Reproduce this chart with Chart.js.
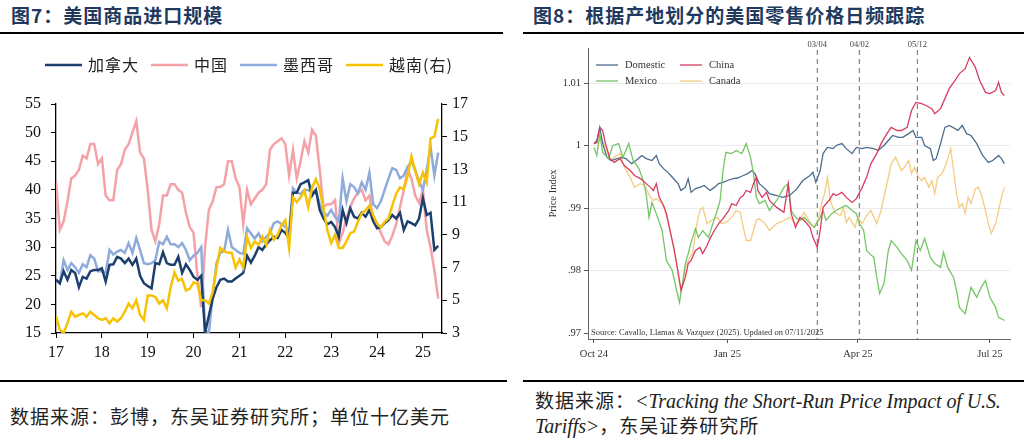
<!DOCTYPE html>
<html>
<head>
<meta charset="utf-8">
<script src="https://cdn.jsdelivr.net/npm/chart.js@4.4.1/dist/chart.umd.min.js"></script>
<style>
  body { margin: 0; width: 1024px; height: 441px; background: #fff; overflow: hidden; position: relative; font-family: "Noto Sans CJK SC", sans-serif; }
  .title { position: absolute; top: 3px; font-size: 19px; line-height: 24px; font-weight: bold; color: #22395e; letter-spacing: 1px; white-space: nowrap; }
  .rule { position: absolute; height: 2px; background: #000; }
  .box { position: absolute; }
  .foot { position: absolute; font-size: 19px; line-height: 25px; color: #222; white-space: nowrap; letter-spacing: 1px; }
  .foot i { font-family: "Liberation Serif", serif; font-size: 20px; letter-spacing: -0.1px; }
</style>
</head>
<body>
<div class="title" style="left:11px">图7：美国商品进口规模</div>
<div class="title" style="left:533px">图8：根据产地划分的美国零售价格日频跟踪</div>
<div class="rule" style="left:0;top:32px;width:503px"></div>
<div class="rule" style="left:523px;top:32px;width:501px"></div>

<div class="box" style="left:0;top:35px;width:512px;height:345px"><canvas id="imports"></canvas></div>
<div class="box" style="left:523px;top:35px;width:501px;height:345px"><canvas id="prices"></canvas></div>

<div class="rule" style="left:0;top:380px;width:507px"></div>
<div class="rule" style="left:523px;top:380px;width:501px"></div>
<div class="foot" style="left:10px;top:403px">数据来源：彭博，东吴证券研究所；单位十亿美元</div>
<div class="foot" style="left:535px;top:387px">数据来源：<i>&lt;Tracking the Short-Run Price Impact of U.S.</i></div>
<div class="foot" style="left:535px;top:412px"><i>Tariffs&gt;</i>，东吴证券研究所</div>

<script>
// ---- 图7: monthly imports, Jan 2017 - May 2025 (bn USD) ----
const yearLabels = ['17', '18', '19', '20', '21', '22', '23', '24', '25'];
const leftTicks = [15, 20, 25, 30, 35, 40, 45, 50, 55];
const rightTicks = [3, 5, 7, 9, 11, 13, 15, 17];

const canada = [
    24.3, 23.7, 25.8, 24.3, 26, 25.5, 23, 24.8, 24.5, 25.8, 26, 26,
    26.3, 24, 26.9, 27, 28.3, 28, 27.2, 28, 26.9, 28, 25, 23.7,
    23.2, 22.8, 27.2, 27, 29.1, 27.2, 26.9, 26.9, 28.3, 25.5, 27, 26,
    24.8, 24.3, 25, 15, 18, 21, 23, 24.3, 24.5, 24, 24, 24.5,
    25, 25.5, 28.5, 27.3, 28.5, 30, 29.5, 30.5, 31.2, 31.8, 31.6, 33,
    32.5, 31.5, 39.5, 39.5, 41, 41.3, 41.7, 39, 40, 36.5, 35, 34,
    34.4, 33.5, 31.8, 36.5, 34.2, 36.8, 35.3, 35, 36, 35.3, 36.5, 34.5,
    33.3, 33.5, 34.2, 34.7, 35.6, 35, 36, 33, 34.5, 34.2, 33.8, 35,
    38.6, 35.6, 36, 29.5, 30.2
];
const china = [
    41.5, 33, 34.5, 38, 42, 42.5, 43.5, 46, 45.5, 48, 48, 44.5,
    45.5, 39, 38.2, 38.2, 43.5, 44.5, 47, 48, 50, 52, 46.5, 45.5,
    40, 33, 31, 34, 39, 39, 41, 41, 40, 39.5, 36, 33.5,
    32.5, 25, 19.5, 30, 36.5, 38, 40.5, 40.5, 41, 45, 45, 42,
    40.5, 34, 40, 37.5, 38.5, 39.5, 40, 41, 47, 48, 48.5, 49,
    48, 42.5, 47, 42, 45, 48.5, 46.5, 50.5, 49.5, 43.5, 37, 37.5,
    37.5, 38.2, 30.7, 32.5, 35, 37, 38.5, 39.5, 40, 38.2, 39, 34.7,
    34, 32.5, 31, 30.5, 32, 34, 37, 40, 43.5, 42, 39, 37.7,
    40, 33, 30, 26, 21
];
const mexico = [
    24.3, 23.7, 27.7, 26, 27.2, 26.5, 25.5, 27, 26.5, 28.6, 28, 25.8,
    25.8, 25.5, 29.5, 28.7, 29.2, 29.5, 29, 30.7, 29, 31.6, 29.5, 27.2,
    27, 27.2, 27.7, 30.9, 30.5, 31.8, 30.5, 30.5, 30, 30.7, 29.5, 27.7,
    28.5, 29, 30, 15.5, 15, 21.5, 27.2, 29, 29.3, 33, 30, 29.5,
    29, 28.8, 33.3, 32.4, 31.5, 32.4, 31, 31.8, 32.5, 34.2, 34.5, 34,
    33.5, 32.8, 40.3, 39.5, 39.3, 40, 40, 39.5, 40, 37.5, 36, 35.5,
    36.5, 35.3, 34.5, 42, 38, 41, 40.5, 39.4, 41.3, 40, 43, 37.5,
    36.8, 38, 40, 42, 43.8, 43.5, 42, 42.5, 44, 45, 43.5, 41.5,
    40, 43.5, 47.5, 42.5, 46.5
];
// right axis
const vietnam = [
    4.0, 3.2, 3.0, 3.6, 4.3, 4.0, 4.1, 4.2, 4.0, 4.3, 4.1, 3.9,
    3.8, 3.9, 3.6, 3.9, 3.7, 3.9, 4.3, 4.8, 4.5, 5.0, 4.1, 3.8,
    5.3, 5.3, 5.2, 4.8, 5.0, 4.5, 5.8, 6.7, 6.2, 6.3, 5.6, 5.7,
    6.1, 6.0, 5.0, 5.0, 4.8, 5.5, 7.0, 8.2, 8.0, 7.9, 7.9, 7.0,
    7.5, 7.0, 8.85, 8.2, 8.6, 8.4, 8.9, 8.4, 9.3, 8.7, 9.0, 9.6,
    9.9, 8.2, 11.3, 11.0, 11.3, 11.7, 10.7, 11.9, 12.4, 11.8, 10.6, 9.3,
    8.5, 9.0, 8.2, 8.2, 8.6, 9.1, 9.2, 9.8, 10.3, 10.5, 10.8, 10.2,
    9.7, 9.45, 9.8, 10.0, 10.8, 11.5, 11.9, 11.8, 12.6, 13.8, 12.9, 12.1,
    12.8, 12.2, 14.9, 15.0, 16.1
];

// ---- 图8: daily price index, days counted from 2024-10-01 ----
const quarterDays = [0, 92, 182, 273];
const quarterLabels = ['Oct 24', 'Jan 25', 'Apr 25', 'Jul 25'];
const priceTicks = [0.97, 0.98, 0.99, 1, 1.01];
const eventDays = [154, 183, 223];
const eventLabels = ['03/04', '04/02', '05/12'];

const domDays = [0, 2, 4, 6, 9, 12, 16, 19, 22, 26,
    29, 33, 36, 40, 43, 45, 48, 51, 53, 56,
    58, 60, 63, 65, 67, 70, 73, 76, 80, 83,
    86, 89, 92, 96, 99, 103, 106, 109, 111, 114,
    118, 121, 126, 130, 135, 140, 144, 149, 151, 153,
    156, 158, 161, 165, 167, 171, 174, 178, 181, 185,
    188, 193, 196, 200, 203, 206, 210, 213, 217, 220,
    222, 226, 228, 232, 234, 236, 239, 242, 245, 249,
    251, 254, 257, 260, 264, 268, 272, 275, 279, 281,
    283];
const domestic = [1.0003, 1.0008, 1.0029, 1.0003, 0.9981, 0.9976, 0.9979, 0.9981, 0.9979, 0.9971,
    0.9976, 0.9984, 0.9979, 0.9976, 0.9984, 0.9971, 0.9963, 0.9957, 0.9952, 0.9944,
    0.9939, 0.9928, 0.9933, 0.9947, 0.9925, 0.9931, 0.9933, 0.9936, 0.9928, 0.9933,
    0.9939, 0.9941, 0.9944, 0.9947, 0.9948, 0.9952, 0.9955, 0.9960, 0.9955, 0.9939,
    0.9931, 0.9923, 0.9920, 0.9917, 0.9920, 0.9931, 0.9944, 0.9952, 0.9957, 0.9941,
    0.9960, 0.9987, 0.9997, 0.9995, 1.0000, 1.0003, 0.9995, 0.9987, 0.9997, 0.9995,
    0.9997, 0.9995, 0.9992, 1.0000, 1.0008, 1.0016, 1.0013, 1.0013, 1.0019, 1.0024,
    1.0013, 1.0013, 1.0000, 0.9995, 0.9976, 0.9979, 1.0003, 1.0029, 1.0032, 1.0027,
    1.0024, 1.0032, 1.0019, 1.0016, 1.0003, 0.9984, 0.9973, 0.9976, 0.9984, 0.9979,
    0.9971];

const chnDays = [0, 2, 4, 6, 8, 11, 14, 18, 21, 25,
    28, 32, 35, 39, 41, 43, 45, 48, 50, 52,
    55, 57, 59, 60, 63, 65, 67, 70, 73, 75,
    78, 80, 83, 86, 89, 93, 95, 98, 101, 103,
    105, 108, 110, 112, 113, 116, 119, 121, 126, 131,
    134, 136, 139, 142, 145, 149, 151, 154, 156, 158,
    162, 165, 167, 171, 174, 178, 181, 185, 188, 191,
    195, 198, 202, 205, 209, 212, 216, 219, 222, 226,
    229, 233, 235, 239, 242, 245, 249, 252, 256, 259,
    263, 266, 270, 273, 277, 279, 281, 283];
const china8 = [1.0003, 1.0005, 1.0029, 1.0024, 1.0003, 0.9979, 0.9973, 0.9979, 0.9968, 0.9960,
    0.9952, 0.9947, 0.9941, 0.9933, 0.9928, 0.9939, 0.9917, 0.9904, 0.9891, 0.9869,
    0.9837, 0.9811, 0.9784, 0.9768, 0.9789, 0.9811, 0.9816, 0.9832, 0.9837, 0.9827,
    0.9840, 0.9851, 0.9864, 0.9875, 0.9883, 0.9896, 0.9907, 0.9904, 0.9917, 0.9920,
    0.9928, 0.9925, 0.9939, 0.9949, 0.9928, 0.9917, 0.9925, 0.9912, 0.9901, 0.9893,
    0.9939, 0.9891, 0.9869, 0.9885, 0.9880, 0.9869, 0.9853, 0.9837, 0.9864, 0.9901,
    0.9912, 0.9923, 0.9920, 0.9925, 0.9917, 0.9909, 0.9915, 0.9933, 0.9949, 0.9971,
    0.9987, 1.0003, 1.0019, 1.0029, 1.0024, 1.0024, 1.0029, 1.0056, 1.0069, 1.0067,
    1.0064, 1.0059, 1.0051, 1.0059, 1.0075, 1.0091, 1.0104, 1.0115, 1.0123, 1.0141,
    1.0125, 1.0104, 1.0085, 1.0083, 1.0088, 1.0101, 1.0085, 1.0080];

const mexDays = [0, 2, 4, 6, 10, 13, 17, 20, 24, 27,
    31, 34, 36, 38, 40, 43, 47, 50, 54, 57,
    59, 61, 63, 65, 67, 70, 72, 75, 79, 82,
    85, 87, 89, 91, 95, 98, 102, 105, 108, 110,
    112, 114, 118, 121, 126, 131, 134, 136, 139, 142,
    145, 149, 152, 156, 158, 160, 164, 167, 171, 174,
    178, 181, 183, 186, 188, 190, 193, 195, 197, 200,
    203, 205, 209, 212, 216, 219, 222, 225, 228, 232,
    235, 239, 241, 244, 248, 250, 252, 256, 258, 260,
    264, 267, 270, 273, 277, 279, 283];
const mexico8 = [0.9997, 0.9984, 1.0019, 0.9989, 0.9979, 1.0000, 1.0003, 0.9981, 1.0003, 0.9976,
    0.9963, 0.9944, 0.9923, 0.9885, 0.9909, 0.9891, 0.9864, 0.9816, 0.9800, 0.9768,
    0.9749, 0.9779, 0.9811, 0.9827, 0.9845, 0.9867, 0.9853, 0.9864, 0.9853, 0.9875,
    0.9896, 0.9912, 0.9960, 0.9989, 0.9987, 0.9992, 0.9987, 1.0003, 0.9981, 0.9955,
    0.9917, 0.9907, 0.9912, 0.9896, 0.9912, 0.9933, 0.9939, 0.9896, 0.9885, 0.9880,
    0.9885, 0.9875, 0.9869, 0.9885, 0.9896, 0.9880, 0.9891, 0.9896, 0.9901, 0.9904,
    0.9896, 0.9891, 0.9875, 0.9864, 0.9832, 0.9827, 0.9821, 0.9789, 0.9763, 0.9779,
    0.9832, 0.9848, 0.9837, 0.9827, 0.9816, 0.9800, 0.9848, 0.9832, 0.9851, 0.9821,
    0.9811, 0.9805, 0.9829, 0.9805, 0.9789, 0.9768, 0.9741, 0.9731, 0.9752, 0.9773,
    0.9757, 0.9773, 0.9784, 0.9757, 0.9741, 0.9725, 0.9720];

const canDays = [0, 3, 5, 8, 11, 14, 18, 21, 25, 28,
    32, 35, 39, 41, 43, 47, 49, 52, 55, 57,
    59, 61, 63, 66, 68, 71, 73, 75, 78, 81,
    85, 88, 91, 95, 98, 101, 103, 105, 108, 110,
    112, 114, 118, 121, 126, 131, 135, 139, 142, 145,
    149, 152, 155, 157, 159, 161, 163, 166, 170, 172,
    174, 176, 180, 182, 185, 188, 191, 195, 198, 201,
    203, 205, 208, 210, 212, 214, 217, 219, 221, 224,
    226, 228, 231, 233, 235, 237, 240, 242, 244, 246,
    248, 250, 252, 254, 256, 258, 260, 263, 265, 267,
    270, 272, 274, 277, 279, 281, 283];
const canada8 = [1.0003, 1.0005, 1.0013, 0.9997, 0.9976, 0.9981, 0.9987, 0.9965, 0.9949, 0.9933,
    0.9939, 0.9936, 0.9917, 0.9912, 0.9915, 0.9907, 0.9896, 0.9869, 0.9837, 0.9811,
    0.9779, 0.9773, 0.9805, 0.9821, 0.9827, 0.9875, 0.9896, 0.9901, 0.9875, 0.9880,
    0.9885, 0.9875, 0.9877, 0.9885, 0.9896, 0.9893, 0.9869, 0.9848, 0.9848, 0.9864,
    0.9880, 0.9883, 0.9875, 0.9864, 0.9875, 0.9880, 0.9885, 0.9875, 0.9880, 0.9893,
    0.9877, 0.9869, 0.9885, 0.9907, 0.9923, 0.9949, 0.9912, 0.9893, 0.9888, 0.9901,
    0.9877, 0.9885, 0.9869, 0.9885, 0.9875, 0.9888, 0.9896, 0.9875, 0.9896, 0.9928,
    0.9949, 0.9971, 0.9981, 0.9971, 0.9960, 0.9965, 0.9976, 0.9955, 0.9965, 0.9949,
    0.9944, 0.9949, 0.9933, 0.9944, 0.9923, 0.9949, 0.9955, 0.9965, 0.9979, 0.9995,
    0.9960, 0.9923, 0.9901, 0.9907, 0.9891, 0.9917, 0.9907, 0.9931, 0.9933, 0.9923,
    0.9896, 0.9875, 0.9859, 0.9875, 0.9896, 0.9917, 0.9933];

const serif = 'Liberation Serif';

function monthly(vals) {
    return vals.map((v, i) => ({ x: i, y: v }));
}
function daily(days, vals) {
    return days.map((d, i) => ({ x: d, y: vals[i] }));
}
function fixTicks(list) {
    return scale => { scale.ticks = list.map(v => ({ value: v })); };
}

// legend row drawn above the plot, like the report's
const importLegend = {
    id: 'importLegend',
    afterDraw(chart) {
        const ctx = chart.ctx;
        let x = 45;
        const y = 30;
        ctx.save();
        ctx.font = '16px "Noto Sans CJK SC"';
        ctx.letterSpacing = '1px';
        ctx.textBaseline = 'middle';
        chart.data.datasets.forEach(ds => {
            ctx.strokeStyle = ds.borderColor;
            ctx.lineWidth = 2.5;
            ctx.beginPath();
            ctx.moveTo(x, y);
            ctx.lineTo(x + 37, y);
            ctx.stroke();
            ctx.fillStyle = '#222';
            ctx.fillText(ds.label, x + 43, y);
            x += 43 + ctx.measureText(ds.label).width + 12;
        });
        ctx.restore();
    }
};

new Chart(document.getElementById('imports'), {
    type: 'line',
    data: {
        datasets: [
            { label: '加拿大', data: monthly(canada), borderColor: '#1d3f6e', order: 1 },
            { label: '中国', data: monthly(china), borderColor: '#f4a2a8', order: 3 },
            { label: '墨西哥', data: monthly(mexico), borderColor: '#8eabdc', order: 2 },
            { label: '越南(右)', data: monthly(vietnam), borderColor: '#f7c204', yAxisID: 'y2', order: 0 }
        ]
    },
    options: {
        responsive: true,
        maintainAspectRatio: false,
        animation: false,
        layout: { padding: { top: 69, right: 36, bottom: 17, left: 0 } },
        elements: { point: { radius: 0 }, line: { borderWidth: 2.5, tension: 0 } },
        plugins: { legend: { display: false }, tooltip: { enabled: false } },
        scales: {
            x: {
                type: 'linear', min: 0, max: 101,
                afterBuildTicks: fixTicks([0, 12, 24, 36, 48, 60, 72, 84, 96]),
                afterFit: s => { s.height = 30; },
                grid: { drawOnChartArea: false, tickLength: 5, color: '#000' },
                border: { color: '#000', width: 1.3 },
                ticks: { font: { family: serif, size: 16 }, color: '#111', padding: 5, maxRotation: 0,
                    callback: v => yearLabels[Math.round(v / 12)] }
            },
            y: {
                position: 'left', min: 15, max: 55,
                afterBuildTicks: fixTicks(leftTicks),
                afterFit: s => { s.width = 56; },
                grid: { drawOnChartArea: false, tickLength: 5, color: '#000' },
                border: { color: '#000', width: 1.3 },
                ticks: { font: { family: serif, size: 16 }, color: '#111', padding: 10 }
            },
            y2: {
                position: 'right', min: 3, max: 17,
                afterBuildTicks: fixTicks(rightTicks),
                afterFit: s => { s.width = 34; },
                grid: { drawOnChartArea: false, tickLength: 5, color: '#000' },
                border: { color: '#000', width: 1.3 },
                ticks: { font: { family: serif, size: 16 }, color: '#111', padding: 5 }
            }
        }
    },
    plugins: [importLegend]
});

// dashed policy dates, source note and the boxed legend of the price chart
const priceExtras = {
    id: 'priceExtras',
    beforeDatasetsDraw(chart) {
        const { ctx, chartArea, scales } = chart;
        ctx.save();
        ctx.strokeStyle = '#6a6a6a';
        ctx.lineWidth = 1;
        ctx.setLineDash([5, 4]);
        eventDays.forEach(d => {
            const px = scales.x.getPixelForValue(d);
            ctx.beginPath();
            ctx.moveTo(px, chartArea.top + 2);
            ctx.lineTo(px, chartArea.bottom);
            ctx.stroke();
        });
        ctx.setLineDash([]);
        ctx.font = '8.5px "Liberation Serif"';
        ctx.fillStyle = '#444';
        ctx.textAlign = 'center';
        ctx.textBaseline = 'bottom';
        eventDays.forEach((d, i) => {
            ctx.fillText(eventLabels[i], scales.x.getPixelForValue(d), chartArea.top + 1);
        });
        ctx.restore();
    },
    afterDraw(chart) {
        const { ctx, chartArea, scales } = chart;
        ctx.save();
        ctx.font = '8.5px "Liberation Serif"';
        ctx.fillStyle = '#333';
        ctx.textBaseline = 'middle';
        ctx.fillText('Source: Cavallo, Llamas & Vazquez (2025). Updated on 07/11/2025',
            chartArea.left + 3, scales.y.getPixelForValue(0.97));
        ctx.font = '10.5px "Liberation Serif"';
        chart.data.datasets.forEach((ds, i) => {
            const x = chartArea.left + (i % 2 === 0 ? 8 : 92);
            const y = chartArea.top + (i < 2 ? 17 : 33);
            ctx.strokeStyle = ds.borderColor;
            ctx.lineWidth = 1.3;
            ctx.beginPath();
            ctx.moveTo(x, y);
            ctx.lineTo(x + 22, y);
            ctx.stroke();
            ctx.fillText(ds.label, x + 29, y);
        });
        ctx.restore();
    }
};

new Chart(document.getElementById('prices'), {
    type: 'line',
    data: {
        datasets: [
            { label: 'Domestic', data: daily(domDays, domestic), borderColor: '#4d6c8e', order: 2 },
            { label: 'China', data: daily(chnDays, china8), borderColor: '#d83c61', order: 0 },
            { label: 'Mexico', data: daily(mexDays, mexico8), borderColor: '#74c565', order: 1 },
            { label: 'Canada', data: daily(canDays, canada8), borderColor: '#f6cb82', order: 3 }
        ]
    },
    options: {
        responsive: true,
        maintainAspectRatio: false,
        animation: false,
        layout: { padding: { top: 13, right: 14, bottom: 0, left: 0 } },
        elements: { point: { radius: 0 }, line: { borderWidth: 1.3, tension: 0 } },
        plugins: { legend: { display: false }, tooltip: { enabled: false } },
        scales: {
            x: {
                type: 'linear', min: -4.1, max: 286.9,
                afterBuildTicks: fixTicks(quarterDays),
                afterFit: s => { s.height = 41; },
                grid: { drawOnChartArea: false, tickLength: 4, color: '#555' },
                border: { color: '#666', width: 1 },
                ticks: { font: { family: serif, size: 10.5 }, color: '#333', padding: 5, maxRotation: 0,
                    callback: (v, i) => quarterLabels[i] }
            },
            y: {
                min: 0.96904, max: 1.0156,
                afterBuildTicks: fixTicks(priceTicks),
                afterFit: s => { s.width = 65; },
                grid: { color: c => (c.tick && c.tick.value < 0.975) ? 'rgba(0,0,0,0)' : '#ebebeb',
                    tickColor: '#555', tickLength: 4 },
                border: { color: '#666', width: 1 },
                title: { display: true, text: 'Price Index', font: { family: serif, size: 10.5 }, color: '#333',
                    padding: { top: 24 } },
                ticks: { font: { family: serif, size: 10.5 }, color: '#333', padding: 3,
                    callback: v => String(+v.toFixed(2)).replace(/^0/, '') }
            }
        }
    },
    plugins: [priceExtras]
});
</script>
</body>
</html>
